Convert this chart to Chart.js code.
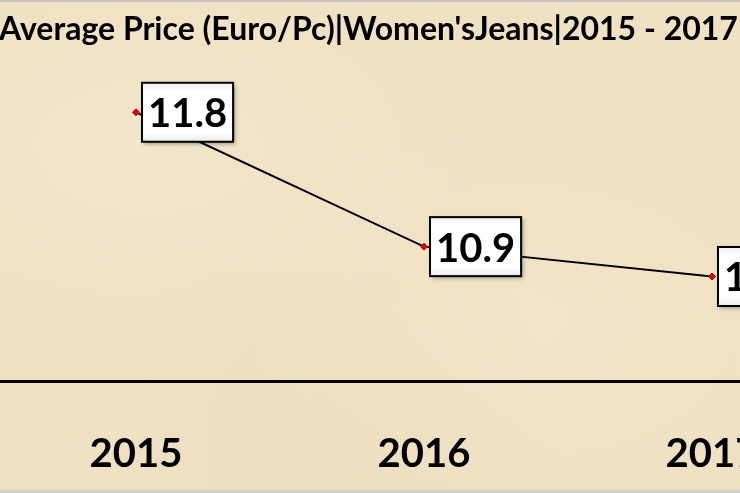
<!DOCTYPE html>
<html>
<head>
<meta charset="utf-8">
<script src="https://cdn.jsdelivr.net/npm/chart.js@4/dist/chart.umd.min.js"></script>
<style>
  html, body {
    margin: 0;
    width: 740px;
    height: 493px;
    overflow: hidden;
  }
  body {
    position: relative;
    background-color: #efe1c3;
    background-image:
      radial-gradient(ellipse at 20% 30%, rgba(255,250,235,0.18), rgba(255,250,235,0) 40%),
      radial-gradient(ellipse at 70% 65%, rgba(255,248,230,0.15), rgba(255,248,230,0) 45%),
      radial-gradient(ellipse at 45% 90%, rgba(225,205,165,0.15), rgba(225,205,165,0) 40%);
    box-shadow: inset 0 2px 0 #c4c4c4, inset 0 -3px 0 #cfcfcf;
  }
  #wrap {
    position: absolute;
    left: -124px;
    top: 0;
    width: 985px;
    height: 493px;
  }
</style>
</head>
<body>
<div id="wrap"><canvas id="priceChart"></canvas></div>
<script>
  const years = ['2015', '2016', '2017'];
  const avgPrice = [11.8, 10.9, 10.7];
  const chartTitle = "Average Price (Euro/Pc)|Women'sJeans|2015 - 2017";

  // boxed value labels to the right of each point
  const boxLabels = {
    id: 'boxLabels',
    afterDatasetsDraw(chart) {
      const c = chart.ctx;
      const meta = chart.getDatasetMeta(0);
      c.save();
      c.font = 'bold 40px Lato';
      c.textBaseline = 'middle';
      meta.data.forEach((pt, i) => {
        const txt = avgPrice[i].toFixed(1);
        const w = c.measureText(txt).width + 12;
        const h = 59;
        const x = pt.x + 6;
        const y = pt.y - h / 2;
        c.shadowColor = 'rgba(0,0,0,0.35)';
        c.shadowBlur = 4;
        c.shadowOffsetX = 2;
        c.shadowOffsetY = 2;
        c.fillStyle = '#ffffff';
        c.fillRect(x, y, w, h);
        c.shadowColor = 'transparent';
        const g = c.createLinearGradient(0, y, 0, y + h);
        g.addColorStop(0, 'rgba(0,0,0,0.06)');
        g.addColorStop(0.15, 'rgba(0,0,0,0)');
        g.addColorStop(0.85, 'rgba(0,0,0,0)');
        g.addColorStop(1, 'rgba(0,0,0,0.08)');
        c.fillStyle = g;
        c.fillRect(x, y, w, h);
        c.lineWidth = 2;
        c.strokeStyle = '#000';
        c.strokeRect(x, y, w, h);
        c.fillStyle = '#000';
        c.textAlign = 'left';
        c.fillText(txt, x + 6, pt.y + 2);
      });
      c.restore();
    }
  };

  new Chart(document.getElementById('priceChart'), {
    type: 'line',
    data: {
      labels: years,
      datasets: [{
        data: avgPrice,
        borderColor: '#000',
        borderWidth: 2,
        tension: 0,
        pointStyle: 'rectRot',
        pointRadius: 3.5,
        pointBackgroundColor: '#e00000',
        pointBorderColor: '#b00000',
        pointBorderWidth: 1
      }]
    },
    options: {
      responsive: true,
      maintainAspectRatio: false,
      animation: false,
      layout: { padding: { top: 0, bottom: 15, left: 0, right: 0 } },
      plugins: {
        legend: { display: false },
        tooltip: { enabled: false },
        title: {
          display: true,
          text: chartTitle,
          color: '#000',
          font: { family: 'Lato', size: 32, weight: 'bold' },
          padding: { top: 10, bottom: 34 }
        }
      },
      scales: {
        x: {
          offset: true,
          grid: { display: false, drawTicks: false },
          border: { display: true, color: '#000', width: 3 },
          ticks: {
            color: '#000',
            padding: 49,
            font: { family: 'Lato', size: 40, weight: 'bold' }
          },
          afterFit(scale) { scale.height = 97; }
        },
        y: {
          min: 10,
          max: 12,
          grid: { display: false },
          border: { display: false },
          ticks: { display: false },
          afterFit(scale) { scale.width = 116; }
        }
      }
    },
    plugins: [boxLabels]
  });
</script>
</body>
</html>
